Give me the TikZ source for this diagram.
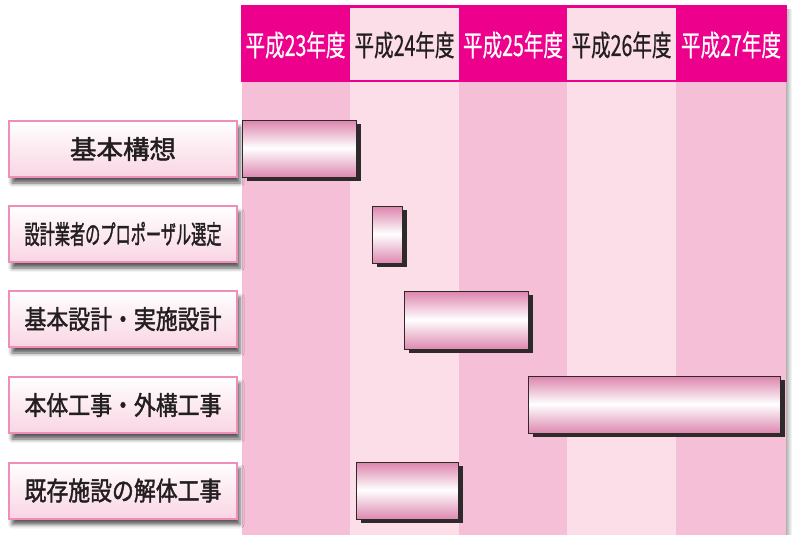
\documentclass[tikz,border=0pt]{standalone}
\usepackage{fontspec}
\usepackage{graphicx}
\setmainfont{Noto Sans CJK JP}
\newfontfamily\jphd{Noto Sans CJK JP}[FakeBold=0.6]
\newfontfamily\jplb{Noto Sans CJK JP}[FakeBold=1.8]
\usetikzlibrary{shadows,shadows.blur}
\definecolor{mag}{HTML}{EC008C}
\definecolor{lite}{HTML}{FCDEE9}
\definecolor{mid}{HTML}{F6BFD8}
\definecolor{lblborder}{HTML}{F08DB9}
\definecolor{lblbot}{HTML}{F9D5E3}
\definecolor{barpink}{HTML}{DD86AE}
\definecolor{ink}{HTML}{231F20}
\definecolor{barline}{HTML}{2E2A2B}
\pgfdeclareverticalshading{barshade}{100bp}{color(0bp)=(barpink); color(25bp)=(barpink); color(51bp)=(white); color(75bp)=(barpink); color(100bp)=(barpink)}
\newcommand{\hdtext}[1]{\resizebox{100pt}{\height}{\fontsize{29}{29}\jphd\selectfont #1}}
\newcommand{\lbtext}[2]{\resizebox{#1}{\height}{\fontsize{26}{26}\jplb\selectfont #2}}
\tikzset{
  hdr/.style={inner sep=0pt, text=#1},
  lbl/.style={draw=lblborder, line width=2pt, top color=white, bottom color=lblbot,
    minimum width=228pt, minimum height=56pt, inner sep=0pt, text=ink,
    blur shadow={shadow xshift=3pt, shadow yshift=-6pt, shadow blur radius=4pt, shadow opacity=65}},
  bar/.style={draw=barline, line width=1.3pt, shading=barshade, anchor=north west, inner sep=0pt,
    general shadow={fill=barline, shadow xshift=4pt, shadow yshift=-3pt}},
}
\begin{document}
\begin{tikzpicture}[x=1pt,y=-1pt]
\useasboundingbox (0,0) rectangle (795,535);
% right shadow
\shade[left color=black!30, right color=white] (786,10) rectangle (792,535);
% body columns
\fill[mid]  (241.5,82) rectangle (350,535);
\fill[lite] (350,82) rectangle (459,535);
\fill[mid]  (459,82) rectangle (567,535);
\fill[lite] (567,82) rectangle (676,535);
\fill[mid]  (676,82) rectangle (786,535);
% header
\fill[mag] (240.5,5.5) rectangle (786.5,82);
\fill[lite] (350,8.5) rectangle (459,79.5);
\fill[lite] (567,8.5) rectangle (676,79.5);
\node[hdr=white] (h1) at (295.5,45) {\hdtext{平成23年度}};
\node[hdr=ink]   (h2) at (404.5,45) {\hdtext{平成24年度}};
\node[hdr=white] (h3) at (513,45) {\hdtext{平成25年度}};
\node[hdr=ink]   (h4) at (621.5,45) {\hdtext{平成26年度}};
\node[hdr=white] (h5) at (731,45) {\hdtext{平成27年度}};
% labels
\node[lbl] (l1) at (123,149) {\lbtext{106pt}{基本構想}};
\node[lbl] (l2) at (123,234) {\lbtext{197pt}{設計業者のプロポーザル選定}};
\node[lbl] (l3) at (123,319) {\lbtext{197pt}{基本設計・実施設計}};
\node[lbl] (l4) at (123,405) {\lbtext{197pt}{本体工事・外構工事}};
\node[lbl] (l5) at (123,490.5) {\lbtext{197pt}{既存施設の解体工事}};
% bars
\node[bar, minimum width=114pt, minimum height=57pt] (b1) at (242,120) {};
\node[bar, minimum width=30pt, minimum height=57pt] (b2) at (372,206) {};
\node[bar, minimum width=124pt, minimum height=58pt] (b3) at (404,291) {};
\node[bar, minimum width=252pt, minimum height=57pt] (b4) at (528,376) {};
\node[bar, minimum width=102pt, minimum height=57pt] (b5) at (356,462) {};
\end{tikzpicture}
\end{document}
